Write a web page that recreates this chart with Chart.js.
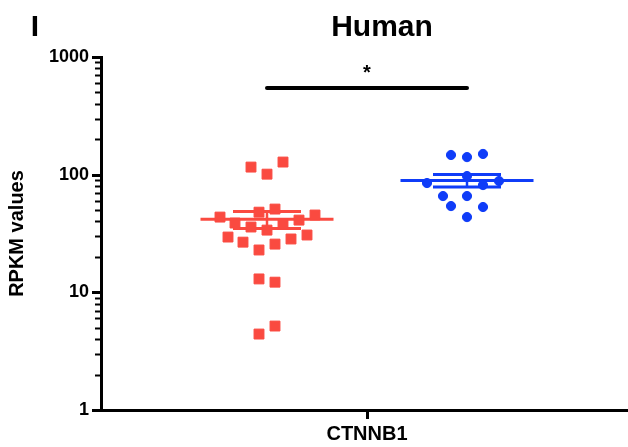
<!DOCTYPE html>
<html><head><meta charset="utf-8">
<script src="https://cdn.jsdelivr.net/npm/chart.js@4"></script>
<style>html,body{margin:0;padding:0;background:#fff}#wrap{width:628px;height:447px;position:relative}</style>
</head><body><div id="wrap"><canvas id="c" width="628" height="447"></canvas></div>
<script>
// ---- data ----
const panelLabel = 'I';
const chartTitle = 'Human';
const yAxisTitle = 'RPKM values';
const categories = ['CTNNB1'];
const categoryPositions = [0];
const yTickLabels = [1, 10, 100, 1000];
const groupCenters = [-1, 1];
const redValues = [116, 128, 101, 48, 51, 43.6, 45.4, 38.8, 35.9, 33.8, 38, 41.1, 29.5, 26.7, 22.9, 25.7, 28.4, 30.7, 13.0, 12.2, 4.42, 5.17];
const redJitter = [-0.16, 0.16, 0, -0.08, 0.08, -0.47, 0.48, -0.32, -0.16, 0, 0.16, 0.32, -0.39, -0.24, -0.08, 0.08, 0.24, 0.40, -0.08, 0.08, -0.08, 0.08];
const blueValues = [147, 141, 150, 84.9, 97.3, 81.6, 88.3, 65.8, 65.8, 54.1, 53.1, 43.6];
const blueJitter = [-0.16, 0, 0.16, -0.40, 0, 0.16, 0.32, -0.24, 0, -0.16, 0.16, 0];
const significanceLabel = '*';
const significanceLevel = 545;

// ---- style ----
const RED = '#FA4A40';
const BLUE = '#0F3CF8';
const FONT = '"Liberation Sans", Arial, Helvetica, sans-serif';

function stats(v){
  const n = v.length; const m = v.reduce((a,b)=>a+b,0)/n;
  const sd = Math.sqrt(v.reduce((a,b)=>a+(b-m)*(b-m),0)/(n-1));
  return {mean:m, sem: sd/Math.sqrt(n)};
}
function pts(values, jitter, center){ return values.map((v,i)=>({x:center+jitter[i], y:v})); }
function lineDs(data, color, width, order){
  return {type:'line', data, showLine:true, borderColor:color, backgroundColor:color, borderWidth:width,
    pointRadius:0, pointHoverRadius:0, fill:false, tension:0, order, spanGaps:false, borderCapStyle:'butt'};
}
function summary(values, center, color){
  const s = stats(values); const hi = s.mean + s.sem, lo = s.mean - s.sem;
  return [
    lineDs([{x:center-0.665,y:s.mean},{x:center+0.665,y:s.mean}], color, 3, 2),
    lineDs([{x:center-0.34,y:hi},{x:center+0.34,y:hi}], color, 3, 2),
    lineDs([{x:center-0.34,y:lo},{x:center+0.34,y:lo}], color, 3, 2),
    lineDs([{x:center,y:lo},{x:center,y:hi}], color, 2.5, 2),
  ];
}

const yTickValues = [];
for (let d = 1; d < 1000; d *= 10) for (let k = 1; k < 10; k++) yTickValues.push(k*d);
yTickValues.push(1000);

const decorPlugin = {
  id:'decor',
  afterDraw(chart){
    const ctx = chart.ctx; const ys = chart.scales.y; const xs = chart.scales.x;
    const x0 = chart.chartArea.left;
    ctx.save();
    ctx.strokeStyle = '#000';
    yTickValues.forEach(v=>{
      const major = yTickLabels.includes(v);
      const py = Math.round(ys.getPixelForValue(v)) + 0.5;
      ctx.lineWidth = major ? 3 : 2;
      ctx.beginPath(); ctx.moveTo(x0 - (major ? 9 : 6), py); ctx.lineTo(x0 + 1, py); ctx.stroke();
    });
    ctx.fillStyle = '#000';
    ctx.textAlign = 'center'; ctx.textBaseline = 'alphabetic';
    ctx.font = 'bold 30px ' + FONT;
    ctx.fillText(chartTitle, 382, 36);
    ctx.fillText(panelLabel, 35, 36);
    ctx.font = 'bold 20px ' + FONT;
    ctx.fillText(significanceLabel, xs.getPixelForValue((groupCenters[0]+groupCenters[1])/2), 79);
    ctx.restore();
  }
};

const chart = new Chart(document.getElementById('c'), {
  type:'scatter',
  data:{ datasets:[
    {data: pts(redValues, redJitter, groupCenters[0]), pointStyle:'rect', pointRadius:7, pointHoverRadius:7,
     backgroundColor:RED, borderColor:RED, borderWidth:1, order:0},
    {data: pts(blueValues, blueJitter, groupCenters[1]), pointStyle:'circle', pointRadius:4.6, pointHoverRadius:4.6,
     backgroundColor:BLUE, borderColor:BLUE, borderWidth:1, order:0},
    ...summary(redValues, groupCenters[0], RED),
    ...summary(blueValues, groupCenters[1], BLUE),
    Object.assign(lineDs([{x:groupCenters[0],y:significanceLevel},{x:groupCenters[1],y:significanceLevel}], '#000', 4, 3), {borderCapStyle:'round'}),
  ]},
  options:{
    responsive:false, animation:false, devicePixelRatio:1,
    layout:{autoPadding:false, padding:{top:57, left:0, right:0, bottom:0}},
    plugins:{legend:{display:false}, tooltip:{enabled:false}, title:{display:false}},
    scales:{
      x:{type:'linear', min:-2.66, max:2.61,
        afterBuildTicks:(s)=>{ s.ticks = categoryPositions.map(v=>({value:v})); },
        afterFit:(s)=>{ s.height = 37; s.paddingRight = 0; s.paddingLeft = 0; },
        ticks:{autoSkip:false, maxRotation:0, padding:3, color:'#000', font:{family:FONT, size:20, weight:'bold'},
          callback:(v)=>{ const i = categoryPositions.indexOf(v); return i>=0 ? categories[i] : ''; }},
        grid:{drawOnChartArea:false, drawTicks:true, tickLength:9, tickWidth:3, tickColor:'#000'},
        border:{display:true, color:'#000', width:3}
      },
      y:{type:'logarithmic', min:1, max:1000,
        afterBuildTicks:(s)=>{ s.ticks = yTickValues.map(v=>({value:v})); },
        afterFit:(s)=>{ s.width = 101; },
        ticks:{autoSkip:false, padding:3, color:'#000', font:{family:FONT, size:18, weight:'bold'},
          callback:(v)=> yTickLabels.includes(v) ? String(v) : ''},
        grid:{drawOnChartArea:false, drawTicks:true, tickLength:9, tickColor:'rgba(0,0,0,0)'},
        border:{display:true, color:'#000', width:3},
        title:{display:true, text:yAxisTitle, color:'#000', font:{family:FONT, size:20, weight:'bold'}, padding:{top:5,bottom:0}}
      }
    }
  },
  plugins:[decorPlugin]
});
</script></body></html>
